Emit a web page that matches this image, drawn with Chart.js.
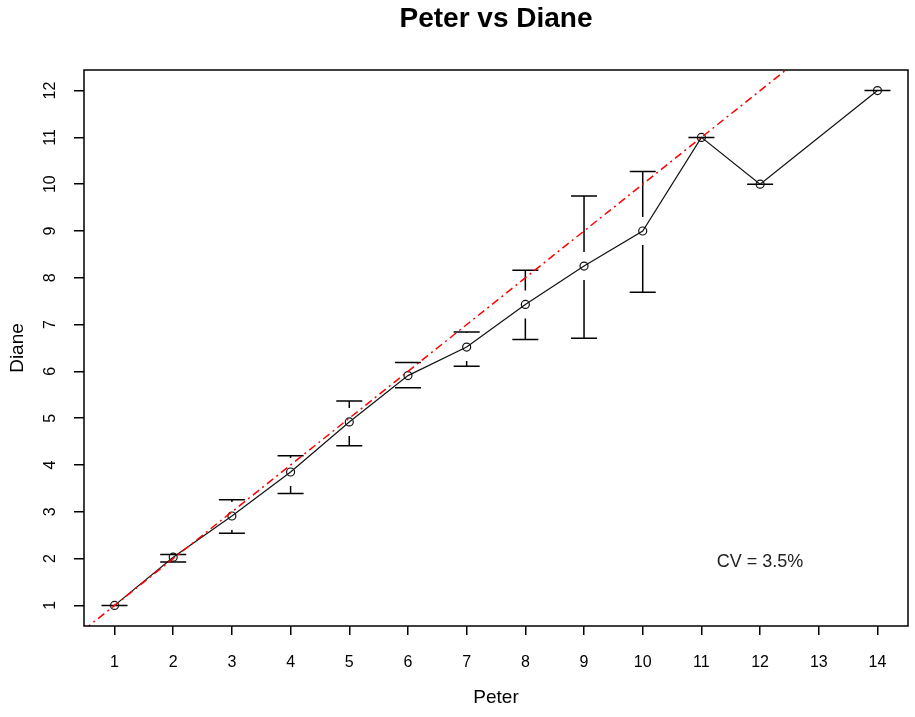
<!DOCTYPE html>
<html>
<head>
<meta charset="utf-8">
<title>Peter vs Diane</title>
<script src="https://cdn.jsdelivr.net/npm/chart.js@4.4.1/dist/chart.umd.min.js"></script>
<style>
  html, body { margin: 0; padding: 0; background: #fff; }
  #wrap { width: 915px; height: 717px; position: relative; }
</style>
</head>
<body>
<div id="wrap"><canvas id="peterChart"></canvas></div>
<script>
// values
const peter = [1, 2, 3, 4, 5, 6, 7, 8, 9, 10, 11, 12, 14];
const diane = [1.0, 2.03, 2.91, 3.85, 4.92, 5.91, 6.52, 7.43, 8.25, 9.0, 11.0, 10.0, 12.0];
const dianeUpper = [1.0, 2.09, 3.26, 4.2, 5.37, 6.19, 6.84, 8.16, 9.75, 10.27, 11.0, 10.0, 12.0];
const dianeLower = [1.0, 1.93, 2.54, 3.39, 4.41, 5.65, 6.11, 6.68, 6.71, 7.69, 11.0, 10.0, 12.0];
const identityX = [0, 13]; // y = x reference line
const xTicks = [1, 2, 3, 4, 5, 6, 7, 8, 9, 10, 11, 12, 13, 14];
const yTicks = [1, 2, 3, 4, 5, 6, 7, 8, 9, 10, 11, 12];
const titleText = "Peter vs Diane";
const cvText = "CV = 3.5%";

const sans = "'Liberation Sans', Arial, sans-serif";
const narrow = "'Liberation Sans Narrow', 'Liberation Sans', Arial, sans-serif";

// error bars with a gap round each point, like the R plot
const errorBars = {
  id: "errorBars",
  beforeDatasetsDraw(chart) {
    const { ctx, chartArea: a, scales: { x, y } } = chart;
    const gap = 14, cap = 13;
    ctx.save();
    ctx.beginPath();
    ctx.rect(a.left, a.top, a.width, a.height);
    ctx.clip();
    ctx.strokeStyle = "#000";
    ctx.lineWidth = 1.5;
    peter.forEach((p, i) => {
      const px = x.getPixelForValue(p);
      const py = y.getPixelForValue(diane[i]);
      const top = y.getPixelForValue(dianeUpper[i]);
      const bot = y.getPixelForValue(dianeLower[i]);
      ctx.beginPath();
      if (py - top > gap) { ctx.moveTo(px, top); ctx.lineTo(px, py - gap); }
      if (bot - py > gap) { ctx.moveTo(px, py + gap); ctx.lineTo(px, bot); }
      ctx.moveTo(px - cap, top); ctx.lineTo(px + cap, top);
      ctx.moveTo(px - cap, bot); ctx.lineTo(px + cap, bot);
      ctx.stroke();
    });
    ctx.restore();
  }
};

// box, title over the plot area, rotated y tick labels and the CV note
const frame = {
  id: "frame",
  afterDraw(chart) {
    const { ctx, chartArea: a, scales: { x, y } } = chart;
    ctx.save();
    ctx.strokeStyle = "#000";
    ctx.lineWidth = 1.5;
    ctx.strokeRect(a.left, a.top, a.width, a.height);
    ctx.fillStyle = "#000";
    ctx.textAlign = "center";
    ctx.textBaseline = "middle";

    ctx.font = "bold 28px " + sans;
    ctx.fillText(titleText, (a.left + a.right) / 2, 19);

    ctx.font = "16px " + narrow;
    yTicks.forEach((v) => {
      ctx.save();
      ctx.translate(a.left - 33, y.getPixelForValue(v));
      ctx.rotate(-Math.PI / 2);
      ctx.fillText(String(v), 0, 0);
      ctx.restore();
    });

    ctx.font = "18px " + sans;
    ctx.fillStyle = "#222";
    ctx.fillText(cvText, x.getPixelForValue(12), y.getPixelForValue(1.92));
    ctx.restore();
  }
};

const config = {
  type: "scatter",
  data: {
    datasets: [
      {
        label: "y = x",
        data: identityX.map((v) => ({ x: v, y: v })),
        showLine: true,
        borderColor: "#ff0000",
        borderWidth: 1.5,
        borderDash: [8, 4, 2, 4],
        pointRadius: 0,
      },
      {
        label: "Diane",
        data: peter.map((p, i) => ({ x: p, y: diane[i] })),
        showLine: true,
        borderColor: "#111",
        borderWidth: 1.2,
        pointRadius: 4,
        pointBorderWidth: 1.2,
        pointBorderColor: "#111",
        pointBackgroundColor: "rgba(0,0,0,0)",
      },
    ],
  },
  options: {
    responsive: true,
    maintainAspectRatio: false,
    animation: false,
    events: [],
    layout: { padding: { top: 70, right: 7, bottom: 0, left: 0 } },
    plugins: {
      legend: { display: false },
      tooltip: { enabled: false },
      title: { display: false },
    },
    scales: {
      x: {
        type: "linear",
        min: 0.48,
        max: 14.52,
        afterBuildTicks: (s) => { s.ticks = xTicks.map((v) => ({ value: v })); },
        afterFit: (s) => { s.height = 91; },
        border: { display: false },
        grid: { display: true, drawOnChartArea: false, drawTicks: true, tickLength: 9, color: "#000", lineWidth: 1.5 },
        ticks: { color: "#000", font: { size: 16, family: narrow }, padding: 18, maxRotation: 0, autoSkip: false },
        title: { display: true, text: "Peter", color: "#000", font: { size: 19, family: sans }, padding: { top: 0, bottom: 8 } },
      },
      y: {
        type: "linear",
        min: 0.56,
        max: 12.44,
        afterBuildTicks: (s) => { s.ticks = yTicks.map((v) => ({ value: v })); },
        afterFit: (s) => { s.width = 84; },
        border: { display: false },
        grid: { display: true, drawOnChartArea: false, drawTicks: true, tickLength: 10, color: "#000", lineWidth: 1.5 },
        ticks: { display: false },
        title: { display: true, text: "Diane", color: "#000", font: { size: 19, family: sans }, padding: { top: 6, bottom: 0 } },
      },
    },
  },
  plugins: [errorBars, frame],
};

const peterChart = new Chart(document.getElementById("peterChart"), config);
</script>
</body>
</html>
